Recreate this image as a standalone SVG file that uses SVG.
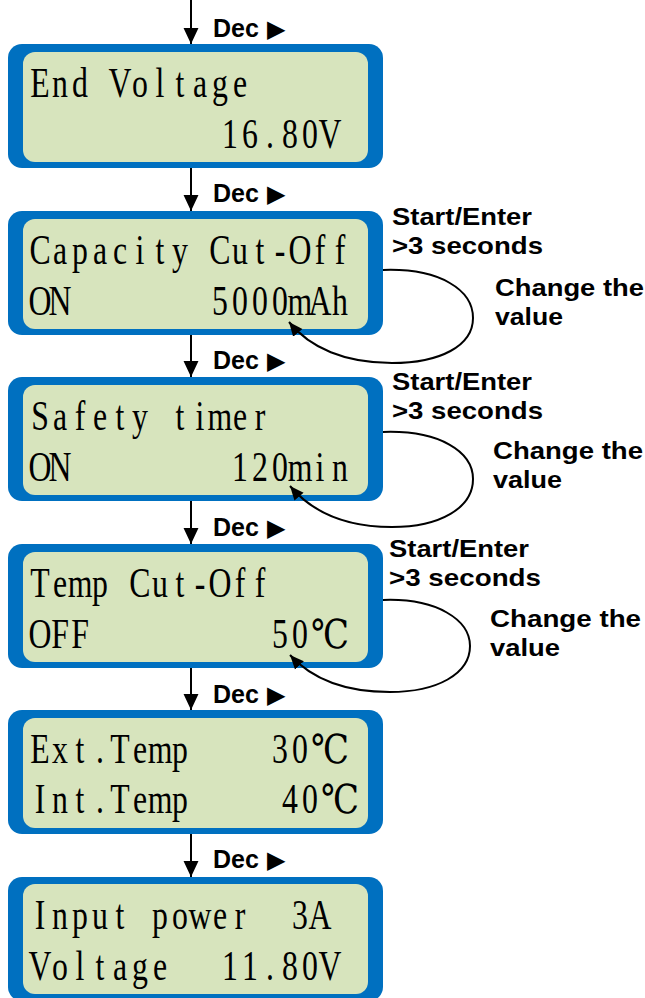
<svg xmlns="http://www.w3.org/2000/svg" width="645" height="998" viewBox="0 0 645 998">
<defs>
<style>
.frame{fill:#0070C0}
.screen{fill:#D7E4BD}
.lcd{font-family:"Liberation Serif","DejaVu Serif","Noto Sans CJK SC",serif;font-size:43px;fill:#000;text-anchor:middle}
.deg{font-family:"DejaVu Serif","Noto Sans CJK SC",serif;font-size:40px;fill:#000;text-anchor:middle}
.lbl{font-family:"Liberation Sans",Arial,sans-serif;font-weight:bold;font-size:24px;fill:#000}
.dec{font-family:"Liberation Sans",Arial,sans-serif;font-weight:bold;font-size:25px;fill:#000}
.tri{font-family:"DejaVu Sans",sans-serif;font-weight:normal;font-size:24px}
.conn{stroke:#000;stroke-width:2;fill:none}
</style>
<marker id="ah" markerUnits="userSpaceOnUse" markerWidth="16" markerHeight="16" viewBox="0 0 15 14" refX="15" refY="7" orient="auto"><path d="M0,0 L15,7 L0,14 z" fill="#000"/></marker>
<marker id="ah2" markerUnits="userSpaceOnUse" markerWidth="14" markerHeight="14" viewBox="0 0 14 12" refX="14" refY="6" orient="auto"><path d="M0,0 L14,6 L0,12 z" fill="#000"/></marker>
</defs>
<rect width="645" height="998" fill="#fff"/>

<g id="node-end-voltage" transform="translate(0,44)">
<rect class="frame" x="8" y="0" width="375" height="124" rx="14"/>
<rect class="screen" x="23" y="8" width="345" height="110" rx="12"/>
<text class="lcd" transform="translate(40,53) scale(0.74,1)" x="0 27 54.1 81.1 108.1 135.1 162.2 189.2 216.2 243.2 270.3">End Voltage</text>
<text class="lcd" transform="translate(230,104) scale(0.74,1)" x="0 27 54.1 81.1 108.1 135.1">16.80V</text>
</g>

<g id="node-capacity" transform="translate(0,211)">
<rect class="frame" x="8" y="0" width="375" height="124" rx="14"/>
<rect class="screen" x="23" y="8" width="345" height="110" rx="12"/>
<text class="lcd" transform="translate(40,53) scale(0.74,1)" x="0 27 54.1 81.1 108.1 135.1 162.2 189.2 216.2 243.2 270.3 297.3 324.3 351.4 378.4 405.4">Capacity Cut-Off</text>
<text class="lcd" transform="translate(40,104) scale(0.74,1)" x="0 27">ON</text>
<text class="lcd" transform="translate(220,104) scale(0.74,1)" x="0 27 54.1 81.1 108.1 135.1 162.2">5000mAh</text>
</g>

<g id="node-safety-timer" transform="translate(0,377)">
<rect class="frame" x="8" y="0" width="375" height="124" rx="14"/>
<rect class="screen" x="23" y="8" width="345" height="110" rx="12"/>
<text class="lcd" transform="translate(40,53) scale(0.74,1)" x="0 27 54.1 81.1 108.1 135.1 162.2 189.2 216.2 243.2 270.3 297.3">Safety timer</text>
<text class="lcd" transform="translate(40,104) scale(0.74,1)" x="0 27">ON</text>
<text class="lcd" transform="translate(240,104) scale(0.74,1)" x="0 27 54.1 81.1 108.1 135.1">120min</text>
</g>

<g id="node-temp-cutoff" transform="translate(0,544)">
<rect class="frame" x="8" y="0" width="375" height="124" rx="14"/>
<rect class="screen" x="23" y="8" width="345" height="110" rx="12"/>
<text class="lcd" transform="translate(40,53) scale(0.74,1)" x="0 27 54.1 81.1 108.1 135.1 162.2 189.2 216.2 243.2 270.3 297.3">Temp Cut-Off</text>
<text class="lcd" transform="translate(40,104) scale(0.74,1)" x="0 27 54.1">OFF</text>
<text class="lcd" transform="translate(280,104) scale(0.74,1)" x="0 27">50</text>
<text class="deg" x="330" y="104" textLength="38" lengthAdjust="spacingAndGlyphs">℃</text>
</g>

<g id="node-temps" transform="translate(0,710)">
<rect class="frame" x="8" y="0" width="375" height="124" rx="14"/>
<rect class="screen" x="23" y="8" width="345" height="110" rx="12"/>
<text class="lcd" transform="translate(40,53) scale(0.74,1)" x="0 27 54.1 81.1 108.1 135.1 162.2 189.2">Ext.Temp</text>
<text class="lcd" transform="translate(280,53) scale(0.74,1)" x="0 27">30</text>
<text class="deg" x="330" y="53" textLength="38" lengthAdjust="spacingAndGlyphs">℃</text>
<text class="lcd" transform="translate(40,103) scale(0.74,1)" x="0 27 54.1 81.1 108.1 135.1 162.2 189.2">Int.Temp</text>
<text class="lcd" transform="translate(290,103) scale(0.74,1)" x="0 27">40</text>
<text class="deg" x="340" y="103" textLength="38" lengthAdjust="spacingAndGlyphs">℃</text>
</g>

<g id="node-input-power" transform="translate(0,877)">
<rect class="frame" x="8" y="0" width="375" height="124" rx="14"/>
<rect class="screen" x="23" y="7" width="345" height="110" rx="12"/>
<text class="lcd" transform="translate(40,52) scale(0.74,1)" x="0 27 54.1 81.1 108.1 135.1 162.2 189.2 216.2 243.2 270.3">Input power</text>
<text class="lcd" transform="translate(300,52) scale(0.74,1)" x="0 27">3A</text>
<text class="lcd" transform="translate(40,103) scale(0.74,1)" x="0 27 54.1 81.1 108.1 135.1 162.2">Voltage</text>
<text class="lcd" transform="translate(230,103) scale(0.74,1)" x="0 27 54.1 81.1 108.1 135.1">11.80V</text>
</g>

<g id="connectors">
<line class="conn" x1="191" y1="0" x2="191" y2="44" marker-end="url(#ah)"/>
<line class="conn" x1="191" y1="168" x2="191" y2="211" marker-end="url(#ah)"/>
<line class="conn" x1="191" y1="335" x2="191" y2="377" marker-end="url(#ah)"/>
<line class="conn" x1="191" y1="501" x2="191" y2="544" marker-end="url(#ah)"/>
<line class="conn" x1="191" y1="668" x2="191" y2="710" marker-end="url(#ah)"/>
<line class="conn" x1="191" y1="834" x2="191" y2="877" marker-end="url(#ah)"/>
<text class="dec" x="213" y="37">Dec <tspan class="tri" x="267">▶</tspan></text>
<text class="dec" x="213" y="202">Dec <tspan class="tri" x="267">▶</tspan></text>
<text class="dec" x="213" y="369">Dec <tspan class="tri" x="267">▶</tspan></text>
<text class="dec" x="213" y="536">Dec <tspan class="tri" x="267">▶</tspan></text>
<text class="dec" x="213" y="703">Dec <tspan class="tri" x="267">▶</tspan></text>
<text class="dec" x="213" y="868">Dec <tspan class="tri" x="267">▶</tspan></text>

<path class="conn" d="M 383 270 C 440 268, 473 290, 473 318 C 473 346, 440 363, 392 363 C 345 363, 310 348, 289 322" marker-end="url(#ah2)"/>
<text class="lbl" x="392" y="225" textLength="140" lengthAdjust="spacingAndGlyphs">Start/Enter</text>
<text class="lbl" x="392" y="254" textLength="151" lengthAdjust="spacingAndGlyphs">&gt;3 seconds</text>
<text class="lbl" x="495" y="296" textLength="149" lengthAdjust="spacingAndGlyphs">Change the</text>
<text class="lbl" x="495" y="325" textLength="68" lengthAdjust="spacingAndGlyphs">value</text>

<path class="conn" d="M 383 432 C 440 430, 473 452, 473 479 C 473 508, 440 527, 392 527 C 345 527, 312 512, 290 486" marker-end="url(#ah2)"/>
<text class="lbl" x="392" y="390" textLength="140" lengthAdjust="spacingAndGlyphs">Start/Enter</text>
<text class="lbl" x="392" y="419" textLength="151" lengthAdjust="spacingAndGlyphs">&gt;3 seconds</text>
<text class="lbl" x="493" y="459" textLength="150" lengthAdjust="spacingAndGlyphs">Change the</text>
<text class="lbl" x="493" y="488" textLength="69" lengthAdjust="spacingAndGlyphs">value</text>

<path class="conn" d="M 383 600 C 437 598, 470 620, 470 646 C 470 674, 437 692, 390 692 C 343 692, 311 678, 290 655" marker-end="url(#ah2)"/>
<text class="lbl" x="389" y="557" textLength="140" lengthAdjust="spacingAndGlyphs">Start/Enter</text>
<text class="lbl" x="389" y="586" textLength="152" lengthAdjust="spacingAndGlyphs">&gt;3 seconds</text>
<text class="lbl" x="490" y="627" textLength="151" lengthAdjust="spacingAndGlyphs">Change the</text>
<text class="lbl" x="490" y="656" textLength="70" lengthAdjust="spacingAndGlyphs">value</text>
</g>
</svg>
